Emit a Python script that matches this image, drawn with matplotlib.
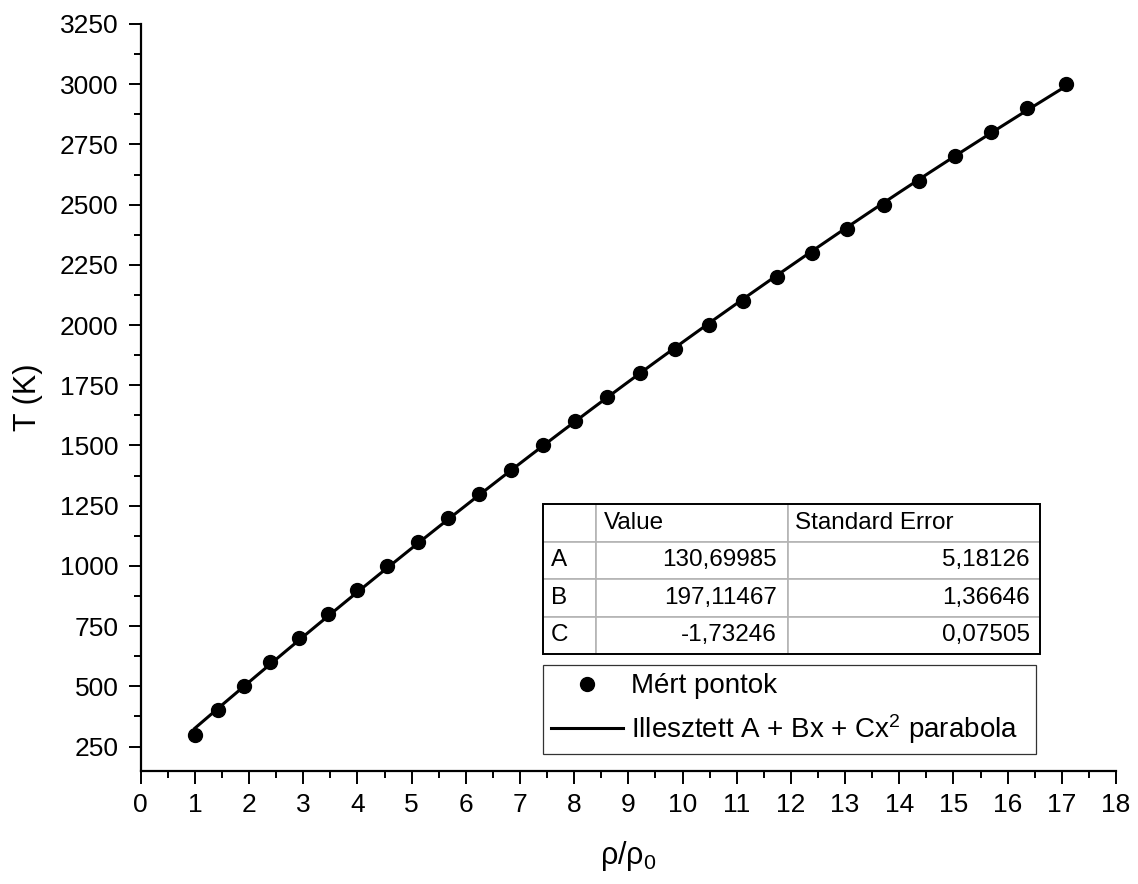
import matplotlib
matplotlib.use("Agg")
from matplotlib import pyplot as plt
from matplotlib.ticker import MultipleLocator
import numpy as np

plt.rcParams["font.family"] = ["Liberation Sans", "DejaVu Sans"]
plt.rcParams["mathtext.fontset"] = "custom"
plt.rcParams["mathtext.rm"] = "Liberation Sans"
plt.rcParams["mathtext.it"] = "Liberation Sans:italic"

# measured points (rho/rho0, T)
rho_ratio = [1.00, 1.42, 1.90, 2.39, 2.92, 3.45, 3.99, 4.55, 5.11, 5.67,
             6.24, 6.83, 7.42, 8.02, 8.61, 9.22, 9.86, 10.48, 11.11, 11.74,
             12.39, 13.04, 13.71, 14.36, 15.03, 15.69, 16.36, 17.07]
temperature = [300, 400, 500, 600, 700, 800, 900, 1000, 1100, 1200,
               1300, 1400, 1500, 1600, 1700, 1800, 1900, 2000, 2100, 2200,
               2300, 2400, 2500, 2600, 2700, 2800, 2900, 3000]

# fit parameters
param_names = ["A", "B", "C"]
param_values = ["130,69985", "197,11467", "-1,73246"]
param_errors = ["5,18126", "1,36646", "0,07505"]
fit_coeffs = [130.69985, 197.11467, -1.73246]

fig = plt.figure(figsize=(11.38, 8.84), dpi=100)
ax = fig.add_axes([0.1236, 0.1282, 0.8571, 0.8447])

x_fit = np.linspace(min(rho_ratio), max(rho_ratio), 200)
y_fit = fit_coeffs[0] + fit_coeffs[1] * x_fit + fit_coeffs[2] * x_fit ** 2

ax.plot(rho_ratio, temperature, "o", color="black", markersize=10,
        label="Mért pontok", zorder=3)
ax.plot(x_fit, y_fit, "-", color="black", linewidth=2.2,
        label="Illesztett A + Bx + Cx$^2$ parabola", zorder=2)

ax.set_xlim(0, 18)
ax.set_ylim(150, 3250)
ax.xaxis.set_major_locator(MultipleLocator(1))
ax.xaxis.set_minor_locator(MultipleLocator(0.5))
ax.yaxis.set_major_locator(MultipleLocator(250))
ax.yaxis.set_minor_locator(MultipleLocator(125))
ax.set_yticks(np.arange(250, 3251, 250))

for side in ["top", "right"]:
    ax.spines[side].set_visible(False)
for side in ["left", "bottom"]:
    ax.spines[side].set_linewidth(1.6)

ax.tick_params(which="major", direction="out", length=9, width=1.4,
               labelsize=19, pad=7)
ax.tick_params(which="minor", direction="out", length=5, width=1.4)

ax.set_xlabel(r"ρ/ρ$_0$", fontsize=22, labelpad=16)
ax.set_ylabel("T (K)", fontsize=22, labelpad=12)

# parameter table
cell_text = [["", "Value", "Standard Error"]]
for n, v, e in zip(param_names, param_values, param_errors):
    cell_text.append([n, v, e])
tbl = ax.table(cellText=cell_text, colWidths=[53.3, 191.7, 252.3],
               bbox=[0.412, 0.156, 0.510, 0.201])
tbl.auto_set_font_size(False)
left_pad = {0: 0.16, 1: 0.042, 2: 0.028}
right_pad = {1: 0.057, 2: 0.04}
for (r, c), cell in tbl.get_celld().items():
    cell.set_edgecolor("#b4b4b4")
    cell.set_linewidth(1.2)
    cell.get_text().set_fontsize(17.5)
    if r == 0 or c == 0:
        cell.get_text().set_ha("left")
        cell._loc = "left"
        cell.PAD = left_pad[c]
    else:
        cell.get_text().set_ha("right")
        cell._loc = "right"
        cell.PAD = right_pad[c]
outer = plt.Rectangle((0.412, 0.156), 0.510, 0.201, transform=ax.transAxes,
                      fill=False, edgecolor="black", linewidth=1.4, zorder=5)
ax.add_patch(outer)

leg = ax.legend(loc="center", bbox_to_anchor=(0.412, 0.021, 0.506, 0.122),
                mode="expand", fontsize=20, frameon=True, fancybox=False,
                edgecolor="black", borderpad=0.3, handlelength=2.6,
                handletextpad=0.3, labelspacing=0.45, borderaxespad=0)
leg.get_frame().set_linewidth(0.9)

fig.savefig("out.png", dpi=100)
